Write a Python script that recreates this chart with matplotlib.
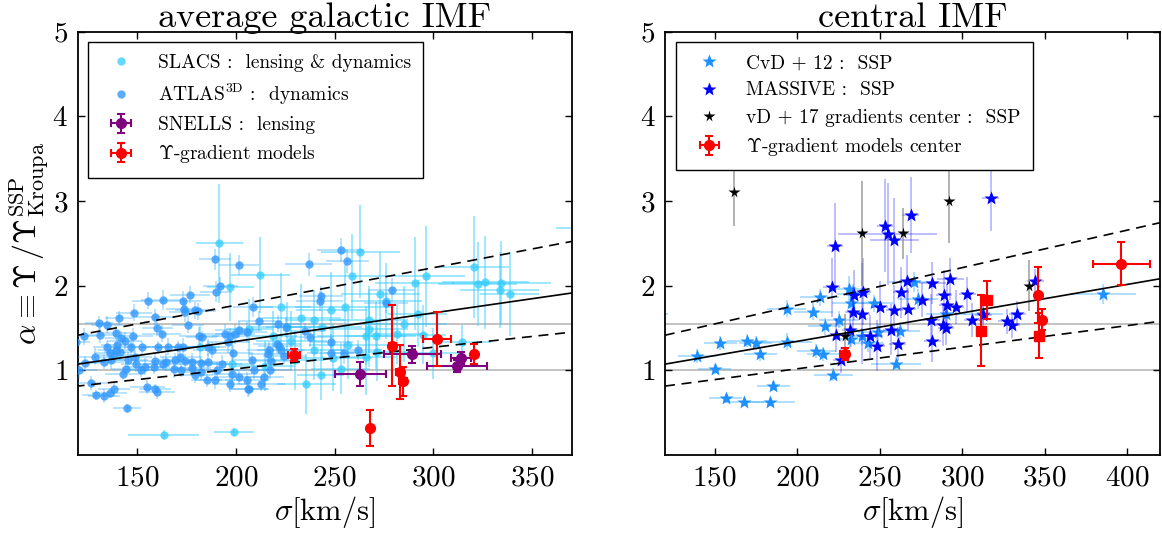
import matplotlib
matplotlib.use("Agg")
import matplotlib.pyplot as plt
import numpy as np

plt.rcParams['font.family'] = 'serif'
plt.rcParams['font.serif'] = ['cmr10']
plt.rcParams['mathtext.fontset'] = 'cm'
plt.rcParams['axes.formatter.use_mathtext'] = True
plt.rcParams['axes.unicode_minus'] = False

# ---------------- left panel: average galactic IMF ----------------
# SLACS: lensing & dynamics
slacs_sig = [191.7, 212.4, 263.1, 258.8, 290.6, 296.1, 320.3, 322.5, 326.3, 334.4,
             333.6, 338.7, 292.0, 294.6, 314.4, 385.0, 267.3, 281.4, 267.3, 239.8,
             248.3, 233.1, 239.8, 225.9, 255.1, 243.7, 235.6, 242.9, 222.9, 266.1,
             270.9, 206.8, 163.5, 199.0, 265.9, 276.2, 198.2, 181.8, 249.0, 228.0,
             215.0, 257.0, 285.0, 300.0, 230.0, 273.0, 253.0, 219.0, 271.5, 197.3]
slacs_alp = [2.50, 2.13, 2.40, 2.11, 2.03, 2.11, 2.22, 2.02, 2.04, 2.03,
             1.95, 1.90, 1.67, 1.42, 1.33, 2.68, 1.60, 1.43, 1.49, 1.24,
             1.71, 1.62, 1.60, 1.51, 1.75, 1.51, 0.84, 0.95, 1.75, 1.41,
             1.41, 1.49, 0.24, 0.27, 1.16, 1.82, 1.08, 1.27, 1.15, 1.35,
             1.05, 1.30, 1.55, 1.20, 1.12, 1.90, 1.02, 1.40, 1.22, 1.98]
slacs_sig_err = [12, 15, 20, 18, 20, 20, 18, 20, 22, 25,
                 20, 15, 15, 12, 15, 23, 20, 15, 20, 15,
                 18, 20, 15, 18, 25, 20, 15, 12, 15, 25,
                 15, 12, 18, 10, 15, 18, 10, 10, 20, 18,
                 15, 20, 22, 15, 15, 20, 15, 12, 15, 12]
slacs_alp_err = [0.70, 0.45, 0.55, 0.50, 0.55, 0.60, 0.60, 0.50, 0.55, 0.50,
                 0.45, 0.50, 0.40, 0.35, 0.20, 0.50, 0.40, 0.35, 0.45, 0.35,
                 0.45, 0.40, 0.35, 0.30, 0.50, 0.40, 0.35, 0.30, 0.40, 0.35,
                 0.40, 0.35, 0.05, 0.05, 0.45, 0.45, 0.30, 0.25, 0.40, 0.35,
                 0.30, 0.40, 0.45, 0.30, 0.35, 0.50, 0.30, 0.30, 0.35, 0.40]

# ATLAS3D: dynamics
atlas_sig = [189.5, 201.7, 192.2, 190.0, 176.9, 173.4, 155.6, 163.2, 148.5, 140.8,
             159.3, 173.6, 174.4, 179.1, 181.0, 175.9, 130.8, 134.7, 123.0, 119.0,
             131.5, 139.3, 148.1, 141.9, 143.7, 134.6, 136.3, 139.2, 140.0, 146.9,
             152.4, 160.3, 162.4, 160.5, 165.8, 170.8, 173.4, 181.5, 182.7, 185.8,
             188.1, 194.6, 197.1, 199.7, 201.4, 205.8, 198.8, 196.3, 193.0, 197.1,
             189.5, 185.2, 179.3, 177.6, 178.0, 174.2, 171.7, 169.1, 164.9, 163.2,
             159.0, 158.5, 153.9, 152.2, 149.7, 148.8, 145.4, 144.6, 142.9, 141.2,
             138.6, 136.6, 133.2, 128.5, 123.9, 120.8, 126.8, 129.3, 133.2, 136.1,
             138.3, 155.2, 159.0, 160.2, 144.9, 168.8, 172.5, 182.2, 182.4, 186.1,
             190.3, 198.0, 201.4, 205.6, 206.4, 253.1, 256.5, 236.8, 243.2, 242.4,
             208.8, 211.9, 221.2, 225.4, 234.8, 237.3, 248.3, 248.0, 254.8, 216.9,
             216.5, 220.9, 222.0, 217.8, 222.9, 224.6, 208.2, 209.3, 212.7, 206.8,
             217.5, 214.4, 261.9, 278.8, 276.0]
atlas_alp = [2.31, 2.24, 2.00, 1.93, 1.89, 1.82, 1.82, 1.83, 1.68, 1.62,
             1.63, 1.73, 1.69, 1.71, 1.70, 1.54, 1.56, 1.54, 1.40, 1.33,
             1.42, 1.44, 1.40, 1.38, 1.35, 1.27, 1.20, 1.24, 1.30, 1.27,
             1.27, 1.50, 1.43, 1.27, 1.28, 1.27, 1.28, 1.41, 1.39, 1.27,
             1.24, 1.43, 1.40, 1.43, 1.48, 1.45, 1.20, 1.33, 1.08, 0.84,
             0.88, 0.88, 0.95, 1.03, 1.10, 1.11, 1.16, 1.12, 1.10, 1.08,
             1.11, 1.04, 1.04, 1.00, 1.08, 1.16, 1.12, 1.02, 0.96, 1.22,
             1.18, 1.12, 1.10, 1.16, 1.09, 1.00, 0.85, 0.71, 0.70, 0.73,
             0.78, 0.80, 0.78, 0.74, 0.55, 1.01, 1.00, 0.98, 1.09, 1.10,
             1.00, 0.96, 0.92, 0.88, 0.78, 2.42, 2.29, 2.25, 1.88, 1.82,
             1.75, 1.58, 1.55, 1.51, 1.46, 1.39, 1.33, 1.20, 1.20, 1.24,
             1.19, 1.31, 1.29, 1.11, 1.24, 1.17, 1.12, 1.00, 0.84, 0.78,
             1.00, 0.92, 1.24, 1.95, 1.80]
atlas_sig_err = [8, 10, 9, 8, 10, 9, 8, 11, 9, 7,
                 10, 9, 8, 10, 9, 8, 7, 8, 9, 7,
                 8, 9, 10, 8, 9, 7, 8, 9, 8, 10,
                 9, 8, 10, 9, 8, 11, 9, 10, 8, 9,
                 10, 11, 9, 10, 12, 10, 9, 11, 10, 9,
                 10, 8, 9, 10, 8, 9, 10, 9, 8, 10,
                 9, 8, 10, 9, 8, 9, 10, 8, 9, 8,
                 9, 8, 10, 9, 8, 9, 8, 7, 8, 9,
                 8, 9, 8, 9, 7, 10, 9, 10, 9, 10,
                 11, 10, 12, 11, 10, 12, 11, 12, 11, 12,
                 10, 11, 12, 10, 11, 12, 11, 12, 10, 11,
                 10, 12, 11, 10, 12, 11, 10, 11, 12, 10,
                 11, 10, 12, 12, 11]
atlas_alp_err = [0.12, 0.12, 0.10, 0.12, 0.10, 0.12, 0.10, 0.12, 0.10, 0.08,
                 0.10, 0.10, 0.12, 0.10, 0.10, 0.10, 0.08, 0.10, 0.10, 0.08,
                 0.10, 0.08, 0.10, 0.08, 0.10, 0.08, 0.08, 0.10, 0.08, 0.10,
                 0.08, 0.10, 0.10, 0.08, 0.10, 0.08, 0.10, 0.10, 0.08, 0.10,
                 0.10, 0.12, 0.10, 0.12, 0.10, 0.12, 0.10, 0.12, 0.10, 0.10,
                 0.10, 0.08, 0.10, 0.08, 0.10, 0.08, 0.10, 0.08, 0.10, 0.08,
                 0.10, 0.08, 0.10, 0.08, 0.10, 0.08, 0.10, 0.08, 0.08, 0.10,
                 0.08, 0.10, 0.08, 0.10, 0.08, 0.10, 0.08, 0.06, 0.08, 0.06,
                 0.08, 0.08, 0.06, 0.08, 0.05, 0.10, 0.08, 0.10, 0.08, 0.10,
                 0.10, 0.10, 0.08, 0.10, 0.10, 0.14, 0.14, 0.14, 0.12, 0.12,
                 0.12, 0.12, 0.10, 0.12, 0.10, 0.12, 0.10, 0.10, 0.12, 0.10,
                 0.10, 0.12, 0.10, 0.10, 0.12, 0.10, 0.10, 0.10, 0.08, 0.08,
                 0.10, 0.10, 0.12, 0.14, 0.12]

# SNELLS: lensing
snells_sig = [263.1, 289.3, 312.0, 314.1]
snells_alp = [0.96, 1.19, 1.05, 1.15]
snells_sig_err = [13, 14.5, 15, 5]
snells_alp_err = [0.14, 0.10, 0.07, 0.07]

# Upsilon-gradient models
grad_sig = [229.4, 279.3, 283.3, 284.6, 268.0, 301.8, 320.5]
grad_alp = [1.18, 1.29, 0.98, 0.87, 0.32, 1.37, 1.19]
grad_sig_err = [3, 2, 2, 2, 0, 7, 1]
grad_alp_err = [0.07, 0.48, 0.32, 0.17, 0.21, 0.32, 0.12]

# ---------------- right panel: central IMF ----------------
cvd_sig = [139.6, 150.0, 153.6, 156.8, 167.8, 169.8, 175.0, 177.7, 183.8, 185.6,
           193.7, 193.9, 209.9, 211.7, 213.7, 216.0, 216.7, 222.1, 225.2, 231.8,
           232.9, 232.9, 239.6, 243.0, 246.4, 259.9, 262.6, 270.7, 273.4, 290.3,
           385.4, 312.8, 234.0, 249.0, 112.0]
cvd_alp = [1.17, 1.02, 1.32, 0.67, 0.63, 1.35, 1.32, 1.19, 0.63, 0.81,
           1.73, 1.34, 1.69, 1.23, 1.86, 1.19, 1.52, 0.95, 1.60, 1.96,
           1.79, 1.37, 1.40, 1.32, 1.79, 1.08, 1.47, 2.04, 1.84, 1.67,
           1.90, 1.66, 1.90, 1.45, 1.67]
cvd_sig_err = [12, 10, 10, 10, 12, 12, 10, 10, 15, 10,
               12, 15, 12, 12, 12, 10, 10, 12, 12, 10,
               12, 12, 12, 10, 12, 15, 12, 15, 12, 12,
               20, 12, 10, 12, 10]
cvd_alp_err = [0.08, 0.06, 0.08, 0.05, 0.05, 0.08, 0.08, 0.08, 0.05, 0.06,
               0.10, 0.10, 0.10, 0.08, 0.10, 0.08, 0.10, 0.08, 0.10, 0.15,
               0.12, 0.10, 0.10, 0.10, 0.10, 0.08, 0.10, 0.12, 0.12, 0.12,
               0.12, 0.10, 0.12, 0.10, 0.08]

massive_sig = [223.0, 220.9, 223.9, 226.8, 232.2, 234.0, 234.7, 239.2, 240.1, 244.1,
               248.6, 250.0, 253.2, 255.0, 259.0, 257.2, 259.0, 261.0, 263.1, 266.9,
               267.1, 268.9, 275.7, 281.5, 282.0, 282.0, 289.2, 288.7, 290.3, 290.9,
               293.0, 296.4, 303.2, 306.1, 317.3, 327.0, 330.2, 333.6, 344.4, 313.0]
massive_alp = [2.47, 1.98, 1.42, 1.12, 1.48, 1.69, 1.89, 1.67, 1.93, 1.40,
               1.29, 1.75, 2.71, 2.61, 2.54, 1.48, 1.71, 1.31, 1.92, 2.06,
               1.72, 2.83, 1.83, 1.60, 2.03, 1.35, 1.89, 1.54, 1.50, 1.77,
               2.08, 1.75, 1.90, 1.59, 3.04, 1.58, 1.53, 1.67, 2.05, 1.65]
massive_sig_err = [5, 5, 5, 5, 5, 5, 5, 5, 5, 8,
                   5, 5, 5, 30, 15, 5, 5, 5, 5, 5,
                   5, 5, 5, 5, 8, 5, 5, 5, 5, 5,
                   8, 5, 5, 5, 5, 5, 5, 5, 5, 5]
massive_alp_err = [0.50, 0.35, 0.20, 0.15, 0.20, 0.30, 0.30, 0.60, 0.40, 0.25,
                   0.30, 0.30, 0.55, 0.60, 0.50, 0.30, 0.30, 0.20, 0.30, 0.30,
                   0.25, 0.45, 0.20, 0.30, 0.25, 0.25, 0.30, 0.25, 0.20, 0.25,
                   0.25, 0.20, 0.20, 0.20, 0.40, 0.15, 0.15, 0.15, 0.15, 0.15]

vd_sig = [161.7, 239.6, 264.0, 291.9, 340.3, 229.0]
vd_alp = [3.10, 2.62, 2.62, 3.00, 2.00, 1.41]
vd_alp_err = [0.40, 0.62, 0.30, 0.50, 0.30, 0.25]

gradc_sig = [228.8, 346.0, 348.2, 396.6]
gradc_alp = [1.19, 1.89, 1.60, 2.26]
gradc_sig_err = [3, 0, 2, 17.5]
gradc_alp_err = [0.07, 0.33, 0.12, 0.25]
gradsq_sig = [311.3, 315.3, 346.6]
gradsq_alp = [1.47, 1.83, 1.41]
gradsq_sig_err = [0, 2, 0]
gradsq_alp_err = [0.42, 0.22, 0.27]

# fitted alpha-sigma relation and its 0.12 dex scatter
fit_a0, fit_s0, fit_slope, fit_scatter = 1.073, 120.0, 0.00336, 0.12
alpha_salp = 1.55

fig = plt.figure(figsize=(11.62, 5.35), dpi=100)
ax1 = fig.add_axes([0.0669, 0.1495, 0.4251, 0.7915])
ax2 = fig.add_axes([0.5723, 0.1495, 0.4260, 0.7915])


def decorate(ax, xmax, xticks):
    s = np.linspace(110, xmax + 10, 200)
    fit = fit_a0 + fit_slope * (s - fit_s0)
    ax.plot(s, fit, color='k', lw=1.2, zorder=6)
    ax.plot(s, fit * 10**fit_scatter, color='k', lw=1.2, ls=(0, (6, 4)), zorder=6)
    ax.plot(s, fit * 10**-fit_scatter, color='k', lw=1.2, ls=(0, (6, 4)), zorder=6)
    ax.axhline(1.0, color='#b8b8b8', lw=1.2, zorder=0)
    ax.axhline(alpha_salp, color='#b8b8b8', lw=1.2, zorder=0)
    ax.set_xlim(120, xmax)
    ax.set_ylim(0, 5)
    ax.set_xticks(xticks)
    ax.set_yticks([1, 2, 3, 4, 5])
    ax.tick_params(direction='in', top=True, right=True, length=5, width=1,
                   labelsize=21, pad=7)
    for sp in ax.spines.values():
        sp.set_linewidth(1.3)
    ax.set_xlabel(r'$\sigma[\mathrm{km/s}]$', fontsize=22, labelpad=2)


def add_legend(ax, handles, x0):
    leg = ax.legend(handles=handles, loc='upper left', bbox_to_anchor=(x0, 0.975),
                    fontsize=14, frameon=True, fancybox=False, edgecolor='k',
                    framealpha=1, handlelength=2.2, handletextpad=0.8,
                    labelspacing=0.48, borderpad=0.62, borderaxespad=0.0)
    leg.get_frame().set_linewidth(1.0)


# left panel
ax1.errorbar(slacs_sig, slacs_alp, xerr=slacs_sig_err, yerr=slacs_alp_err, fmt='none',
             ecolor='#33ccff', alpha=0.55, elinewidth=1.2, zorder=1)
h_slacs, = ax1.plot(slacs_sig, slacs_alp, 'o', color='#33ccff', alpha=0.75, ms=6,
                    mec='none', zorder=2, label='SLACS :  lensing & dynamics')
ax1.errorbar(atlas_sig, atlas_alp, xerr=atlas_sig_err, yerr=atlas_alp_err, fmt='none',
             ecolor='#33aaff', alpha=0.4, elinewidth=1.2, zorder=3)
h_atlas, = ax1.plot(atlas_sig, atlas_alp, 'o', color='#3399ff', alpha=0.8, ms=6,
                    mec='none', zorder=4, label=r'ATLAS$^{\rm 3D}$ :  dynamics')
h_snells = ax1.errorbar(snells_sig, snells_alp, xerr=snells_sig_err, yerr=snells_alp_err,
                        fmt='o', color='purple', ms=7, elinewidth=1.5, capsize=3,
                        capthick=1.5, zorder=7, label='SNELLS :  lensing')
h_grad = ax1.errorbar(grad_sig, grad_alp, xerr=grad_sig_err, yerr=grad_alp_err,
                      fmt='o', color='red', ms=7, elinewidth=1.5, capsize=3,
                      capthick=1.5, zorder=8, label=r'$\Upsilon$-gradient models')
decorate(ax1, 370, [150, 200, 250, 300, 350])
ax1.set_ylabel(r'$\alpha \equiv \Upsilon\,/\Upsilon^{\rm SSP}_{\rm Kroupa}$', fontsize=23,
               labelpad=1)
ax1.set_title('average galactic IMF', fontsize=26, pad=3)
add_legend(ax1, [h_slacs, h_atlas, h_snells, h_grad], 0.020)

# right panel
ax2.errorbar(cvd_sig, cvd_alp, xerr=cvd_sig_err, yerr=cvd_alp_err, fmt='none',
             ecolor='#33aaff', alpha=0.45, elinewidth=1.2, zorder=1)
h_cvd, = ax2.plot(cvd_sig, cvd_alp, '*', color='#1e90ff', ms=10, mec='none', zorder=2,
                  label='CvD + 12 :  SSP')
ax2.errorbar(massive_sig, massive_alp, xerr=massive_sig_err, yerr=massive_alp_err,
             fmt='none', ecolor='blue', alpha=0.3, elinewidth=1.2, zorder=3)
h_massive, = ax2.plot(massive_sig, massive_alp, '*', color='blue', ms=10, mec='none',
                      zorder=4, label='MASSIVE :  SSP')
ax2.errorbar(vd_sig, vd_alp, yerr=vd_alp_err, fmt='none', ecolor='gray', alpha=0.7,
             elinewidth=1.2, zorder=5)
h_vd, = ax2.plot(vd_sig, vd_alp, '*', color='k', ms=8.5, mec='none', zorder=7,
                 label='vD + 17 gradients center :  SSP')
h_gradc = ax2.errorbar(gradc_sig, gradc_alp, xerr=gradc_sig_err, yerr=gradc_alp_err,
                       fmt='o', color='red', ms=7, elinewidth=1.5, capsize=3,
                       capthick=1.5, zorder=8, label=r'$\Upsilon$-gradient models center')
ax2.errorbar(gradsq_sig, gradsq_alp, xerr=gradsq_sig_err, yerr=gradsq_alp_err,
             fmt='s', color='red', ms=6.5, elinewidth=1.5, capsize=3, capthick=1.5,
             zorder=8)
decorate(ax2, 420, [150, 200, 250, 300, 350, 400])
ax2.set_title('central IMF', fontsize=26, pad=3)
add_legend(ax2, [h_cvd, h_massive, h_vd, h_gradc], 0.022)

fig.savefig('out.png', dpi=100)
